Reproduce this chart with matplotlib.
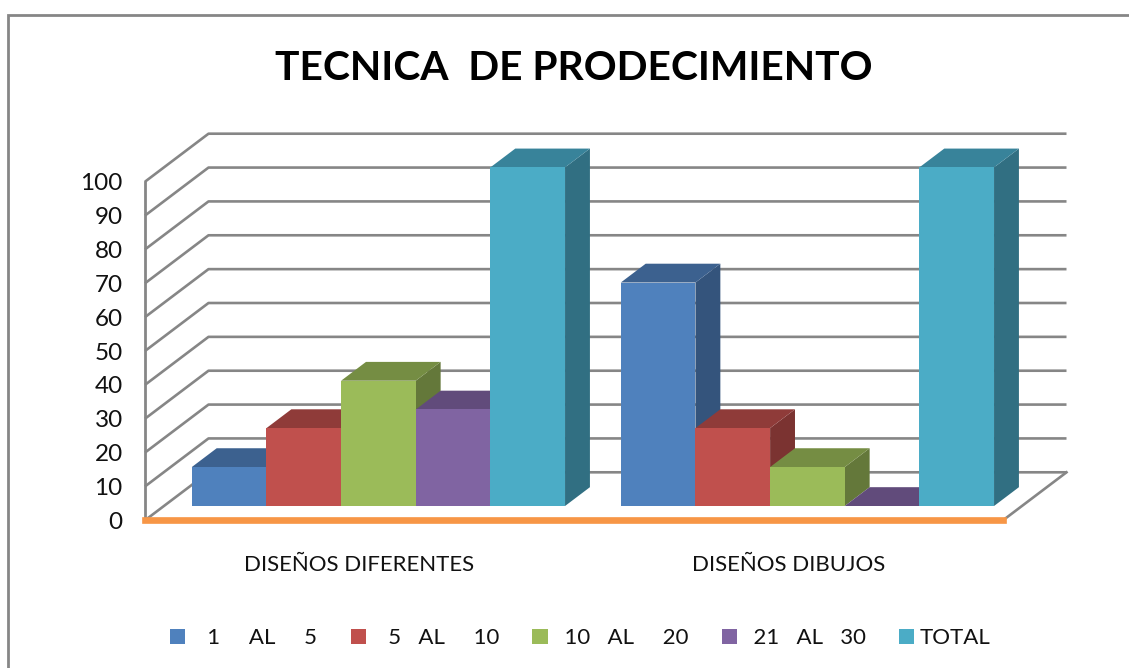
"""
Pseudo-3D column chart (Excel style): TECNICA DE PRODECIMIENTO.
Output: out.png
"""

import matplotlib

matplotlib.use("Agg")

import matplotlib.pyplot as plt
from matplotlib.lines import Line2D
from matplotlib.patches import Patch

plt.rcParams["font.family"] = ["Lato", "DejaVu Sans"]

# ── Data ─────────────────────────────────────────────────────
categories = ["DISEÑOS DIFERENTES", "DISEÑOS DIBUJOS"]
series_names = ["   1     AL     5", "   5   AL     10", "  10   AL     20", "  21   AL   30", "TOTAL"]
values_1_5 = [11.5, 66]
values_5_10 = [23, 23]
values_10_20 = [37, 11.5]
values_21_30 = [28.5, 0]
values_total = [100, 100]
y_ticks = [0, 10, 20, 30, 40, 50, 60, 70, 80, 90, 100]

all_values = [values_1_5, values_5_10, values_10_20, values_21_30, values_total]
front_colors = ["#4F81BD", "#C0504D", "#9BBB59", "#8064A2", "#4BACC6"]
top_colors = ["#3C618F", "#8F3B39", "#758D43", "#614B7B", "#38839A"]
side_colors = ["#34547C", "#7B3331", "#64783A", "#53406A", "#316F82"]

GRID = "#868686"
W, H = 1129, 668

# ── Figure setup ─────────────────────────────────────────────
fig = plt.figure(figsize=(W / 100, H / 100), dpi=100, facecolor="white")
ax = fig.add_axes([145 / W, (H - 520.3) / H, 858 / W, 338.6 / H], facecolor="none")
ax.set_xlim(0, 2)
ax.set_ylim(0, 100)

# pixel sizes in data units, for the fake depth
px_x = 2 / 858
px_y = 100 / 338.6
depth_x = 63.5 * px_x
depth_y = 48 * px_y

# ── Walls ────────────────────────────────────────────────────
for t in y_ticks:
    ax.plot([0, depth_x, 2 + depth_x], [t, t + depth_y, t + depth_y],
            color=GRID, lw=1.9, clip_on=False, zorder=1, solid_capstyle="butt")
ax.plot([2, 2 + depth_x], [0, depth_y], color=GRID, lw=1.9, clip_on=False, zorder=1)

# ── Bars ─────────────────────────────────────────────────────
bar_w = 0.174
gap = (1 - 5 * bar_w) / 2
near = 0.298  # bars start at this fraction of the depth
far = 0.69
off_x, off_y = near * depth_x, near * depth_y
deep_x, deep_y = (far - near) * depth_x, (far - near) * depth_y

z = 2
for c in range(len(categories)):
    for s, vals in enumerate(all_values):
        x0 = c + gap + s * bar_w + off_x
        x1 = x0 + bar_w
        b = off_y
        v = vals[c] + off_y
        # right side
        ax.fill([x1, x1 + deep_x, x1 + deep_x, x1],
                [b, b + deep_y, v + deep_y, v],
                color=side_colors[s], lw=0, clip_on=False, zorder=z)
        # top
        ax.fill([x0, x1, x1 + deep_x, x0 + deep_x],
                [v, v, v + deep_y, v + deep_y],
                color=top_colors[s], lw=0, clip_on=False, zorder=z + 0.1)
        # front
        ax.bar(x0, vals[c], width=bar_w, bottom=b, align="edge",
               color=front_colors[s], lw=0, clip_on=False, zorder=z + 0.2)
        z += 1

ax.set_xlim(0, 2)
ax.set_ylim(0, 100)

# ── Axes styling ─────────────────────────────────────────────
for side in ["top", "right"]:
    ax.spines[side].set_visible(False)
ax.spines["left"].set_color(GRID)
ax.spines["left"].set_linewidth(2)
ax.spines["bottom"].set_color("#F79646")
ax.spines["bottom"].set_linewidth(4.8)
ax.spines["bottom"].set_zorder(z + 1)

ax.set_yticks(y_ticks)
ax.set_xticks([0.5, 1.5])
ax.set_xticklabels(categories, fontsize=16, color="#111111")
ax.tick_params(axis="y", length=0, pad=16, labelsize=17.5, labelcolor="#111111")
ax.tick_params(axis="x", length=0, pad=25)

# ── Title, legend, chart frame ───────────────────────────────
fig.text(574 / W, (H - 68) / H, "TECNICA  DE PRODECIMIENTO", fontsize=29.3,
         fontweight="bold", color="black", ha="center", va="center")

handles = [Patch(color=col, lw=0) for col in front_colors]
fig.legend(handles, series_names, loc="center", bbox_to_anchor=(580 / W, (H - 638) / H),
           ncol=5, frameon=False, fontsize=16, handlelength=0.68, handleheight=0.68,
           handletextpad=0.23, columnspacing=1.5, borderpad=0, labelcolor="#111111")

fig.add_artist(Line2D([8 / W, 8 / W, 1], [0, (H - 15) / H, (H - 15) / H],
                      color=GRID, lw=2, solid_joinstyle="miter"))

fig.savefig("out.png", dpi=100, facecolor="white")
